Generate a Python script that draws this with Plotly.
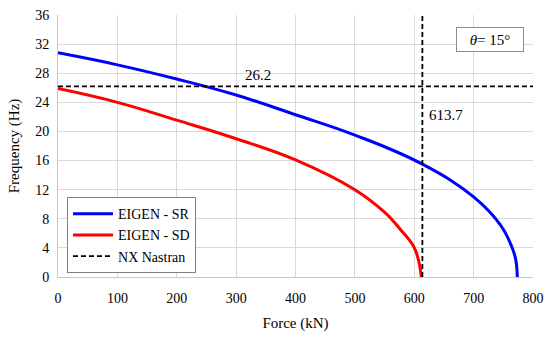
import plotly.graph_objects as go

# EIGEN - SR (blue)
sr_force = [0, 100, 200, 300, 400, 500, 613.7, 700, 745, 764, 771, 773.5]
sr_freq = [30.8, 29.15, 27.2, 25.0, 22.3, 19.5, 15.5, 11.0, 7.15, 4.2, 2.35, 0]

# EIGEN - SD (red)
sd_force = [0, 100, 200, 300, 400, 500, 550, 576, 599, 607, 612]
sd_freq = [25.9, 24.0, 21.55, 19.0, 16.1, 12.0, 8.9, 6.6, 4.2, 2.35, 0]

# NX Nastran reference values
nx_freq = 26.2
nx_force = 613.7

x_ticks = [0, 100, 200, 300, 400, 500, 600, 700, 800]
y_ticks = [0, 4, 8, 12, 16, 20, 24, 28, 32, 36]

FONT = "Liberation Serif"

fig = go.Figure()
fig.add_trace(go.Scatter(x=sr_force, y=sr_freq, mode="lines", name="EIGEN - SR",
                         line=dict(color="#0000ff", width=3, shape="spline", smoothing=1.2)))
fig.add_trace(go.Scatter(x=sd_force, y=sd_freq, mode="lines", name="EIGEN - SD",
                         line=dict(color="#ff0000", width=3, shape="spline", smoothing=1.2)))
fig.add_trace(go.Scatter(x=[x_ticks[0], x_ticks[-1], None, nx_force, nx_force],
                         y=[nx_freq, nx_freq, None, y_ticks[0], y_ticks[-1]],
                         mode="lines", name="NX Nastran",
                         line=dict(color="black", width=1.8, dash="5px,3px")))

fig.add_annotation(x=337, y=nx_freq, yshift=11, text=f"{nx_freq}", showarrow=False,
                   font=dict(family=FONT, size=15, color="black"))
fig.add_annotation(x=nx_force, y=22.3, xshift=5, xanchor="left", text=f"{nx_force}",
                   showarrow=False, font=dict(family=FONT, size=15, color="black"))
fig.add_annotation(x=727, y=32.7, text="<i>θ</i>= 15°", showarrow=False,
                   font=dict(family=FONT, size=15, color="black"),
                   bordercolor="#8c8c8c", borderwidth=1, bgcolor="white",
                   borderpad=4, width=58, height=15)

fig.update_layout(
    width=550, height=338,
    margin=dict(l=58, r=17, t=15, b=61, autoexpand=False),
    paper_bgcolor="white", plot_bgcolor="white",
    font=dict(family=FONT, size=14, color="black"),
    showlegend=True,
    legend=dict(x=0.019, y=0.305, xanchor="left", yanchor="top",
                bgcolor="white", bordercolor="#7f7f7f", borderwidth=1,
                font=dict(family=FONT, size=14), tracegroupgap=0,
                itemwidth=40),
    xaxis=dict(range=[0, 800], tickvals=x_ticks, showgrid=True, gridcolor="#d9d9d9",
               gridwidth=1, zeroline=False, showline=True, linecolor="#c8c8c8",
               ticks="", ticklabelstandoff=8, automargin=False,
               title=dict(text="Force (kN)", font=dict(size=15), standoff=12),
               tickfont=dict(size=14)),
    yaxis=dict(range=[0, 36], tickvals=y_ticks, showgrid=True, gridcolor="#d9d9d9",
               gridwidth=1, zeroline=False, showline=True, linecolor="#c8c8c8",
               ticks="", ticklabelstandoff=5, automargin=False,
               title=dict(text="Frequency (Hz)", font=dict(size=15), standoff=11),
               tickfont=dict(size=14)),
)

fig.write_html("out.html", config={"displayModeBar": False},
               post_script="document.body.style.margin='0';document.body.style.padding='0';")
